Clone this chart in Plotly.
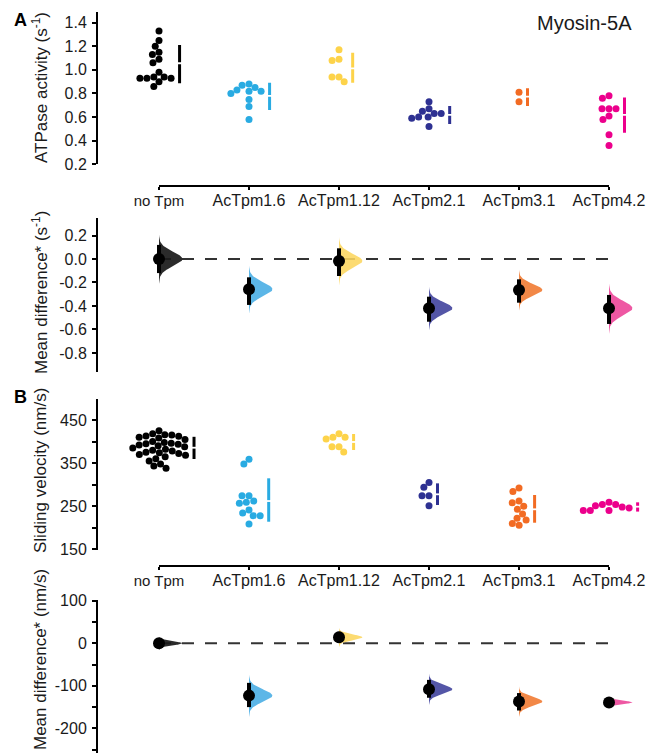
import numpy as np
import plotly.graph_objects as go

# ---------------- data ----------------
categories = ["no Tpm", "AcTpm1.6", "AcTpm1.12", "AcTpm2.1", "AcTpm3.1", "AcTpm4.2"]
tick_text = ["<span style=\"font-size:15px\">no Tpm</span>",
             "AcTpm1.6", "AcTpm1.12", "AcTpm2.1", "AcTpm3.1", "AcTpm4.2"]

# Panel A: ATPase activity (s^-1), individual measurements
atp_noTpm = [1.33, 1.25, 1.20, 1.15, 1.13, 1.09, 1.06, 0.98, 0.94, 0.93, 0.93, 0.93, 0.94, 0.90, 0.86]
atp_16 = [0.88, 0.87, 0.85, 0.83, 0.82, 0.82, 0.80, 0.75, 0.69, 0.58]
atp_112 = [1.17, 1.09, 1.08, 0.94, 0.90, 0.94]
atp_21 = [0.73, 0.67, 0.65, 0.63, 0.63, 0.60, 0.59, 0.60, 0.52]
atp_31 = [0.81, 0.73]
atp_42 = [0.78, 0.76, 0.67, 0.67, 0.67, 0.61, 0.58, 0.45, 0.36]
# mean and mean +/- SD bars
atp_mean = [1.056, 0.779, 1.013, 0.618, 0.773, 0.618]
atp_sd_lo = [0.886, 0.660, 0.892, 0.541, 0.694, 0.468]
atp_sd_hi = [1.211, 0.892, 1.146, 0.694, 0.844, 0.767]
# mean difference and 95% CI
atp_md = [0.0, -0.258, -0.017, -0.420, -0.264, -0.420]
atp_ci_lo = [-0.12, -0.391, -0.145, -0.534, -0.372, -0.553]
atp_ci_hi = [0.12, -0.156, 0.091, -0.321, -0.173, -0.306]

# Panel B: sliding velocity (nm/s)
vel_noTpm = [425, 418, 416, 415, 413, 412, 410, 408, 405, 400, 398, 396, 395, 394, 392, 390,
             388, 385, 382, 380, 378, 375, 374, 372, 370, 368, 365, 360, 355, 348, 343, 338]
vel_16 = [359, 348, 274, 274, 259, 257, 262, 241, 234, 228, 228, 209]
vel_112 = [418, 410, 406, 410, 388, 388, 376]
vel_21 = [305, 294, 274, 274, 251]
vel_31 = [292, 284, 258, 262, 250, 243, 232, 222, 210, 206, 218]
vel_42 = [259, 251, 254, 254, 248, 240, 240, 240, 246]
vel_mean = [385.7, 262.0, 399.0, 277.6, 242.8, 248.9]
vel_sd_lo = [359.5, 214.0, 380.4, 252.8, 211.7, 237.5]
vel_sd_hi = [411.0, 314.7, 417.5, 303.0, 276.0, 259.0]
vel_md = [0.0, -123.0, 14.0, -108.0, -137.0, -139.0]
vel_ci_lo = [-9.0, -150.0, 1.0, -128.0, -158.0, -147.0]
vel_ci_hi = [9.0, -93.0, 27.0, -86.0, -117.0, -131.0]

point_colors = ["#000000", "#29abe2", "#fdd34a", "#2e3192", "#f26b23", "#ec008c"]
violin_colors = ["rgba(25,25,25,0.92)", "rgba(70,172,228,0.88)", "rgba(252,214,95,0.88)",
                 "rgba(60,63,155,0.88)", "rgba(240,120,45,0.88)", "rgba(236,65,150,0.88)"]

# ---------------- layout geometry (pixels) ----------------
W, H = 649, 753
FONT = "Liberation Sans, Arial, sans-serif"
X_CAT0, X_STEP = 159.0, 90.0
XD_L, XD_R = 100.0, 649.0
x_range = [(XD_L - X_CAT0) / X_STEP, (XD_R - X_CAT0) / X_STEP]
YAX_X = 97.0

panels = {
    "A": dict(top=11.7, bot=164.3, rng=[0.2, 1.493]),
    "Ad": dict(top=218.0, bot=372.0, rng=[-0.962, 0.349]),
    "B": dict(top=399.0, bot=550.0, rng=[148.4, 498.7]),
    "Bd": dict(top=600.0, bot=753.0, rng=[-257.9, 101.8]),
}
for p in panels.values():
    p["scale"] = (p["bot"] - p["top"]) / (p["rng"][1] - p["rng"][0])  # px per unit


def ydom(p):
    return [max(0.0, 1 - p["bot"] / H), 1 - p["top"] / H]


def swarm_offsets(values, yscale, d=7.0):
    ys = np.asarray(values, float) * yscale
    order = np.argsort(-ys, kind="stable")
    placed = []
    xs = np.zeros(len(ys))
    for i in order:
        y = ys[i]
        cands = [0.0]
        for (px, py) in placed:
            dy = y - py
            if abs(dy) < d:
                dx = np.sqrt(d * d - dy * dy)
                cands += [px + dx, px - dx]
        cands.sort(key=lambda c: (abs(c), c))
        for c in cands:
            if all((c - px) ** 2 + (y - py) ** 2 >= d * d - 1e-6 for px, py in placed):
                xs[i] = c
                break
        placed.append((xs[i], y))
    return xs


fig = go.Figure()


def add_swarm_panel(groups, means, lo, hi, p, xa, ya):
    for i, vals in enumerate(groups):
        offs = swarm_offsets(vals, p["scale"])
        fig.add_trace(go.Scatter(
            x=i + offs / X_STEP, y=vals, mode="markers", xaxis=xa, yaxis=ya,
            marker=dict(size=7, color=point_colors[i], line=dict(width=0)),
            showlegend=False, hoverinfo="skip", cliponaxis=False))
        bx = i + (offs.max() + 3.5 + 5.0) / X_STEP
        g = 0.9 / p["scale"]
        fig.add_trace(go.Scatter(
            x=[bx, bx, None, bx, bx], y=[lo[i], means[i] - g, None, means[i] + g, hi[i]],
            mode="lines", xaxis=xa, yaxis=ya,
            line=dict(color=point_colors[i], width=3), showlegend=False, hoverinfo="skip"))


def add_diff_panel(md, clo, chi, p, xa, ya):
    fig.add_trace(go.Scatter(
        x=[0, len(categories) - 1], y=[0, 0], mode="lines", xaxis=xa, yaxis=ya,
        line=dict(color="#333333", width=2, dash="12px,11px"), showlegend=False, hoverinfo="skip"))
    for i in range(len(categories)):
        sd = (chi[i] - clo[i]) / 3.92
        yy = np.linspace(md[i] - 3.4 * sd, md[i] + 3.4 * sd, 121)
        ww = 0.26 * np.exp(-0.5 * ((yy - md[i]) / sd) ** 2)
        xs = np.concatenate([i + ww, [i, i]])
        ys = np.concatenate([yy, [yy[-1], yy[0]]])
        fig.add_trace(go.Scatter(
            x=xs, y=ys, mode="lines", fill="toself", fillcolor=violin_colors[i],
            line=dict(width=0, color=violin_colors[i]), xaxis=xa, yaxis=ya,
            showlegend=False, hoverinfo="skip"))
    for i in range(len(categories)):
        fig.add_trace(go.Scatter(
            x=[i, i], y=[clo[i], chi[i]], mode="lines", xaxis=xa, yaxis=ya,
            line=dict(color="black", width=4), showlegend=False, hoverinfo="skip"))
    fig.add_trace(go.Scatter(
        x=list(range(len(categories))), y=md, mode="markers", xaxis=xa, yaxis=ya,
        marker=dict(size=12, color="black", line=dict(width=0)),
        showlegend=False, hoverinfo="skip", cliponaxis=False))


add_swarm_panel([atp_noTpm, atp_16, atp_112, atp_21, atp_31, atp_42],
                atp_mean, atp_sd_lo, atp_sd_hi, panels["A"], "x", "y")
add_diff_panel(atp_md, atp_ci_lo, atp_ci_hi, panels["Ad"], "x2", "y2")
add_swarm_panel([vel_noTpm, vel_16, vel_112, vel_21, vel_31, vel_42],
                vel_mean, vel_sd_lo, vel_sd_hi, panels["B"], "x3", "y3")
add_diff_panel(vel_md, vel_ci_lo, vel_ci_hi, panels["Bd"], "x4", "y4")

# category axes strips
for xa, ya in (("x5", "y5"), ("x6", "y6")):
    fig.add_trace(go.Scatter(x=[0, len(categories) - 1], y=[0, 0], mode="markers",
                             marker=dict(opacity=0), xaxis=xa, yaxis=ya,
                             showlegend=False, hoverinfo="skip"))

tick_font = dict(family=FONT, size=16, color="#1a1a1a")
yax_common = dict(anchor="free", position=YAX_X / W, showline=True, linewidth=2, linecolor="black",
                  ticks="outside", ticklen=4, tickwidth=2, tickcolor="black", showgrid=False,
                  zeroline=False, tickfont=tick_font, ticklabelstandoff=2, automargin=False)
xdata_common = dict(domain=[XD_L / W, XD_R / W], range=x_range, visible=False, showgrid=False,
                    zeroline=False, automargin=False)

layout = dict(
    template="none",
    width=W, height=H, margin=dict(l=0, r=0, t=0, b=0, pad=0), autosize=False,
    paper_bgcolor="white", plot_bgcolor="rgba(0,0,0,0)", showlegend=False,
    font=dict(family=FONT, color="#1a1a1a"),
)

yticks = {
    "A": ([0.2, 0.4, 0.6, 0.8, 1.0, 1.2, 1.4], ["0.2", "0.4", "0.6", "0.8", "1.0", "1.2", "1.4"]),
    "Ad": ([0.2, 0.0, -0.2, -0.4, -0.6, -0.8], ["0.2", "0.0", "-0.2", "-0.4", "-0.6", "-0.8"]),
    "B": ([150, 200, 250, 300, 350, 400, 450], ["150", "", "250", "", "350", "", "450"]),
    "Bd": ([100, 50, 0, -50, -100, -150, -200, -250], ["100", "", "0", "", "-100", "", "-200", ""]),
}
for key, n in (("A", ""), ("Ad", "2"), ("B", "3"), ("Bd", "4")):
    p = panels[key]
    layout["xaxis" + n] = dict(xdata_common, anchor="y" + n)
    tv, tt = yticks[key]
    layout["yaxis" + n] = dict(yax_common, domain=ydom(p), range=p["rng"],
                               tickvals=tv, ticktext=tt)

strip_common = dict(domain=[X_CAT0 / W, (X_CAT0 + 5 * X_STEP) / W], range=[0, 5],
                    tickvals=list(range(6)), ticktext=tick_text, showline=True, linewidth=2,
                    linecolor="black", ticks="outside", ticklen=3, tickwidth=2, tickcolor="black",
                    showgrid=False, zeroline=False, tickfont=tick_font, ticklabelstandoff=-3,
                    automargin=False)
layout["xaxis5"] = dict(strip_common, anchor="y5")
layout["yaxis5"] = dict(domain=[1 - 185 / H, 1 - 184 / H], visible=False, range=[0, 1],
                        automargin=False)
layout["xaxis6"] = dict(strip_common, anchor="y6")
layout["yaxis6"] = dict(domain=[1 - 565 / H, 1 - 564 / H], visible=False, range=[0, 1],
                        automargin=False)

fig.update_layout(**layout)

title_font = dict(family=FONT, size=17, color="#1a1a1a")
ann = [
    ("ATPase activity (s<sup>-1</sup>)", 40, 88),
    ("Mean difference* (s<sup>-1</sup>)", 40, 293),
    ("Sliding velocity (nm/s)", 40, 471),
    ("Mean difference* (nm/s)", 40, 660),
]
for txt, xp, yp in ann:
    fig.add_annotation(text=txt, x=xp / W, y=1 - yp / H, xref="paper", yref="paper",
                       textangle=-90, showarrow=False, font=title_font,
                       xanchor="center", yanchor="middle")
fig.add_annotation(text="<b>A</b>", x=20 / W, y=1 - 20 / H, xref="paper", yref="paper",
                   showarrow=False, font=dict(family=FONT, size=18, color="black"),
                   xanchor="center", yanchor="middle")
fig.add_annotation(text="<b>B</b>", x=20 / W, y=1 - 397 / H, xref="paper", yref="paper",
                   showarrow=False, font=dict(family=FONT, size=18, color="black"),
                   xanchor="center", yanchor="middle")
fig.add_annotation(text="Myosin-5A", x=634 / W, y=1 - 23 / H, xref="paper", yref="paper",
                   showarrow=False, font=dict(family=FONT, size=20, color="#1a1a1a"),
                   xanchor="right", yanchor="middle")

fig.write_html("out.html", config={"displayModeBar": False},
               post_script="document.body.style.margin='0';document.body.style.overflow='hidden';")
